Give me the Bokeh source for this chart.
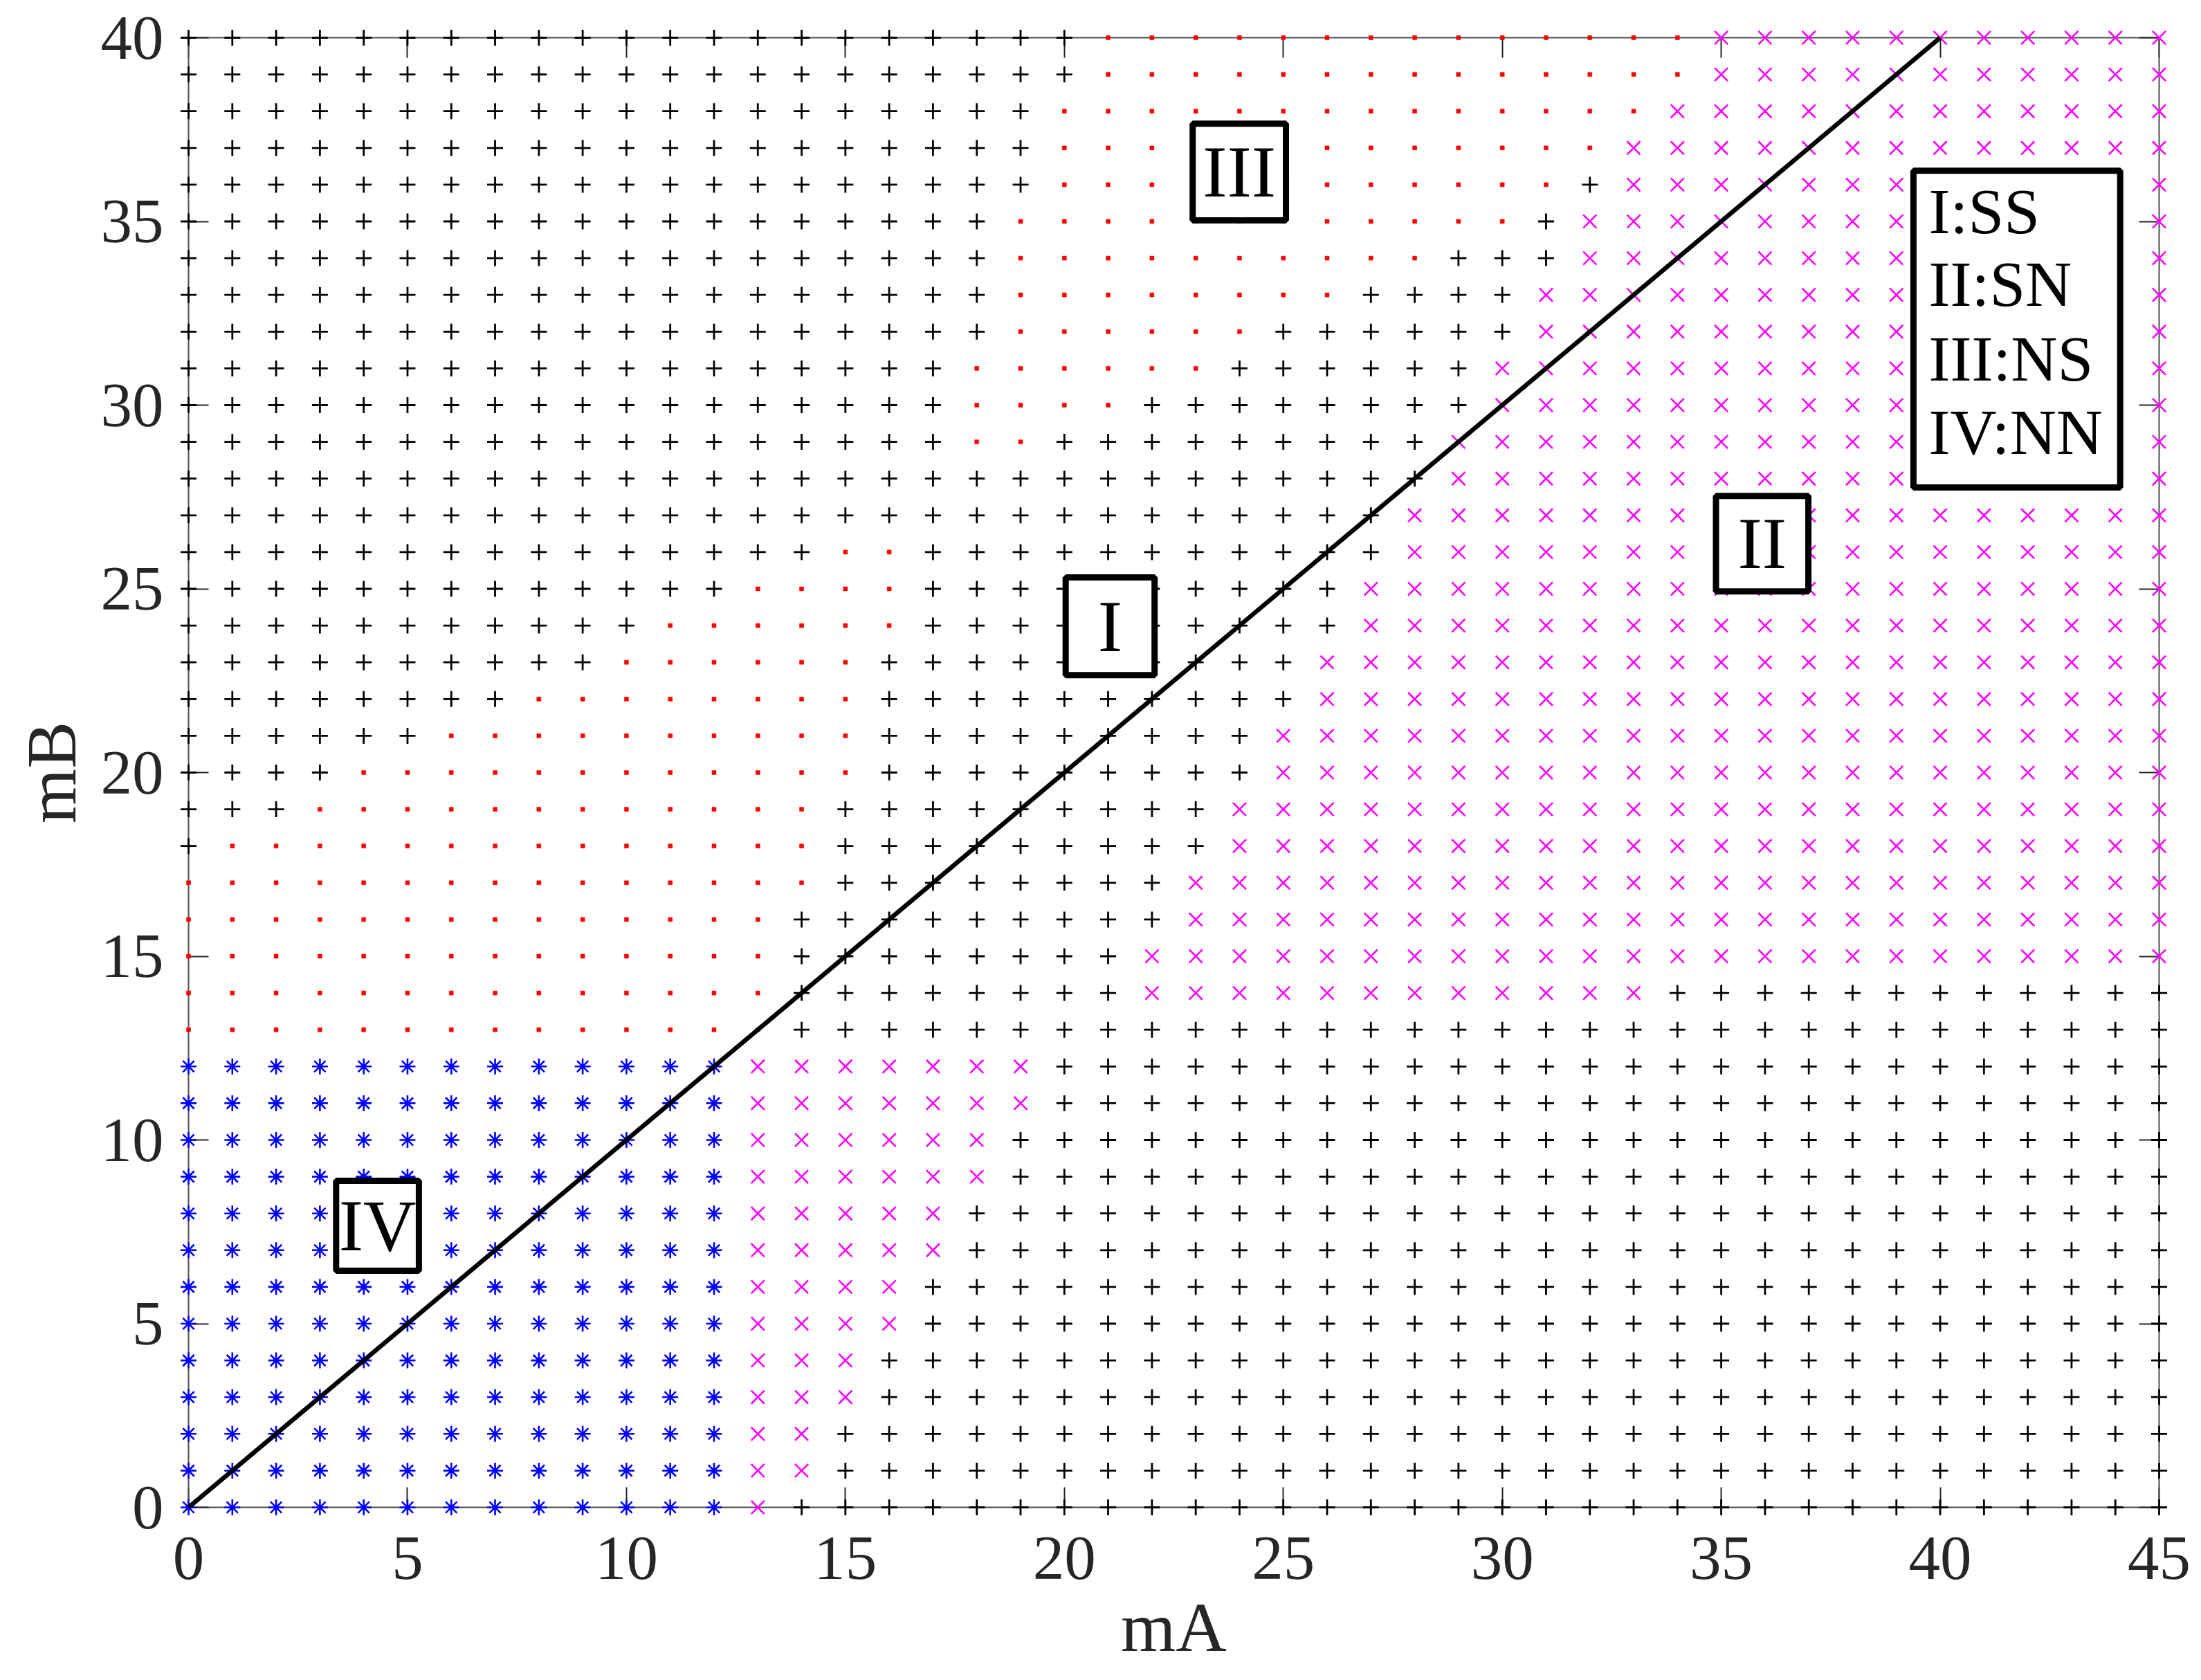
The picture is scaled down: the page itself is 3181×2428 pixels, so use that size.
from bokeh.plotting import figure
from bokeh.models import (Range1d, FixedTicker, LinearAxis, BoxAnnotation, Label,
                          CustomJSTickFormatter)
from bokeh.embed import file_html
from bokeh.resources import INLINE

# ---------------- data ----------------
# Each row mB (40 .. 0) lists runs of classes along mA = 0 .. 45
#   '+' : I  (SS)   'x' : II (SN)   '.' : III (NS)   '*' : IV (NN)
mA_values = list(range(0, 46))
mB_values = list(range(40, -1, -1))
row_runs = {
    40: "+21 .14 x11",
    39: "+21 .14 x11",
    38: "+20 .14 x12",
    37: "+20 .13 x13",
    36: "+20 .12 +1 x13",
    35: "+19 .12 +1 x14",
    34: "+19 .10 +3 x14",
    33: "+19 .8 +4 x15",
    32: "+19 .6 +6 x15",
    31: "+18 .6 +6 x16",
    30: "+18 .4 +8 x16",
    29: "+18 .2 +9 x17",
    28: "+29 x17",
    27: "+28 x18",
    26: "+15 .2 +11 x18",
    25: "+13 .4 +10 x19",
    24: "+11 .6 +10 x19",
    23: "+10 .6 +10 x20",
    22: "+8 .8 +10 x20",
    21: "+6 .10 +9 x21",
    20: "+4 .12 +9 x21",
    19: "+3 .12 +9 x22",
    18: "+1 .14 +9 x22",
    17: ".15 +8 x23",
    16: ".14 +9 x23",
    15: ".14 +8 x24",
    14: ".14 +8 x12 +12",
    13: ".14 +32",
    12: "*13 x7 +26",
    11: "*13 x7 +26",
    10: "*13 x6 +27",
    9: "*13 x6 +27",
    8: "*13 x5 +28",
    7: "*13 x5 +28",
    6: "*13 x4 +29",
    5: "*13 x4 +29",
    4: "*13 x3 +30",
    3: "*13 x3 +30",
    2: "*13 x2 +31",
    1: "*13 x2 +31",
    0: "*13 x1 +32",
}
boundary_mA = [0, 40]
boundary_mB = [0, 40]

x_ticks = [0, 5, 10, 15, 20, 25, 30, 35, 40, 45]
y_ticks = [0, 5, 10, 15, 20, 25, 30, 35, 40]

region_labels = ["I", "II", "III", "IV"]
legend_lines = ["I:SS", "II:SN", "III:NS", "IV:NN"]

# ---------------- expand the grid ----------------
pts = {"+": ([], []), "x": ([], []), ".": ([], []), "*": ([], [])}
for mb in mB_values:
    cls = []
    for run in row_runs[mb].split():
        cls += [run[0]] * int(run[1:])
    assert len(cls) == len(mA_values), (mb, len(cls))
    for ma, c in zip(mA_values, cls):
        pts[c][0].append(ma)
        pts[c][1].append(mb)

SERIF = "Liberation Serif"
INK = "#262626"

p = figure(frame_width=2848, frame_height=2124,
           x_range=Range1d(0, 45), y_range=Range1d(0, 40),
           output_backend="svg", toolbar_location=None,
           min_border_left=272, min_border_top=54,
           min_border_right=50, min_border_bottom=244,
           background_fill_color="white", border_fill_color="white")
p.grid.visible = False
p.outline_line_color = None

# axes
for ax, tk in ((p.xaxis[0], x_ticks), (p.yaxis[0], y_ticks)):
    ax.ticker = FixedTicker(ticks=tk)
    ax.major_label_text_font = SERIF
    ax.major_label_text_font_size = "91px"
    ax.major_label_text_color = INK
    ax.axis_label_text_font = SERIF
    ax.axis_label_text_font_size = "102px"
    ax.axis_label_text_font_style = "normal"
    ax.axis_label_text_color = INK
    ax.major_tick_in = 29
    ax.major_tick_out = 0
    ax.minor_tick_in = 0
    ax.minor_tick_out = 0
    ax.major_tick_line_color = INK
    ax.major_tick_line_width = 2
    ax.axis_line_color = "#4d4d4d"
    ax.axis_line_width = 2
p.xaxis.axis_label = "mA"
p.yaxis.axis_label = "mB"
p.xaxis.major_label_standoff = 43
p.yaxis.major_label_standoff = 36
p.xaxis.axis_label_standoff = 10
p.yaxis.axis_label_standoff = 12

blank = CustomJSTickFormatter(code="return ''")
for loc, tk in (("above", x_ticks), ("right", y_ticks)):
    ax = LinearAxis(ticker=FixedTicker(ticks=tk), formatter=blank,
                    major_tick_in=29, major_tick_out=0,
                    minor_tick_in=0, minor_tick_out=0,
                    major_tick_line_color=INK, major_tick_line_width=2,
                    axis_line_color="#4d4d4d", axis_line_width=2,
                    major_label_standoff=0)
    p.add_layout(ax, loc)

# markers (drawn at annotation level so edge markers are not clipped)
p.scatter(pts["+"][0], pts["+"][1], marker="cross", size=23,
          line_color="#000000", line_width=2.8, level="annotation")
p.scatter(pts["x"][0], pts["x"][1], marker="x", size=27,
          line_color="#FF00FF", line_width=2.6, level="annotation")
p.scatter(pts["."][0], pts["."][1], marker="square", size=6,
          fill_color="#FF0000", line_color="#FF0000", line_width=0.5,
          level="annotation")
p.scatter(pts["*"][0], pts["*"][1], marker="asterisk", size=23,
          line_color="#0000FF", line_width=2.6, level="annotation")

p.line(boundary_mA, boundary_mB, line_color="black", line_width=6.5,
       level="annotation")

# region label boxes (left, right, top, bottom in data units)
label_boxes = {
    "III": (22.93, 25.06, 37.66, 35.03),
    "I": (20.03, 22.06, 25.31, 22.65),
    "II": (34.88, 36.99, 27.53, 24.93),
    "IV": (3.37, 5.26, 8.89, 6.44),
}
for name in region_labels:
    l, r, t, b = label_boxes[name]
    p.add_layout(BoxAnnotation(left=l, right=r, top=t, bottom=b,
                               fill_color="white", fill_alpha=1.0,
                               line_color="black", line_alpha=1.0,
                               line_width=9, level="overlay"))
for name in region_labels:
    l, r, t, b = label_boxes[name]
    p.add_layout(Label(x=(l + r) / 2, y=(t + b) / 2, text=name,
                       text_font=SERIF, text_font_size="106px",
                       text_color="black", text_align="center",
                       text_baseline="middle", level="overlay"))

# legend-like box
p.add_layout(BoxAnnotation(left=39.39, right=44.11, top=36.38, bottom=27.76,
                           fill_color="white", fill_alpha=1.0,
                           line_color="black", line_alpha=1.0,
                           line_width=9, level="overlay"))
legend_baselines = [35.28, 33.29, 31.27, 29.26]
for txt, yb in zip(legend_lines, legend_baselines):
    p.add_layout(Label(x=39.74, y=yb, text=txt, text_font=SERIF,
                       text_font_size="93px", text_color="black",
                       text_align="left", text_baseline="alphabetic",
                       level="overlay"))

open("out.html", "w").write(file_html(p, INLINE))
